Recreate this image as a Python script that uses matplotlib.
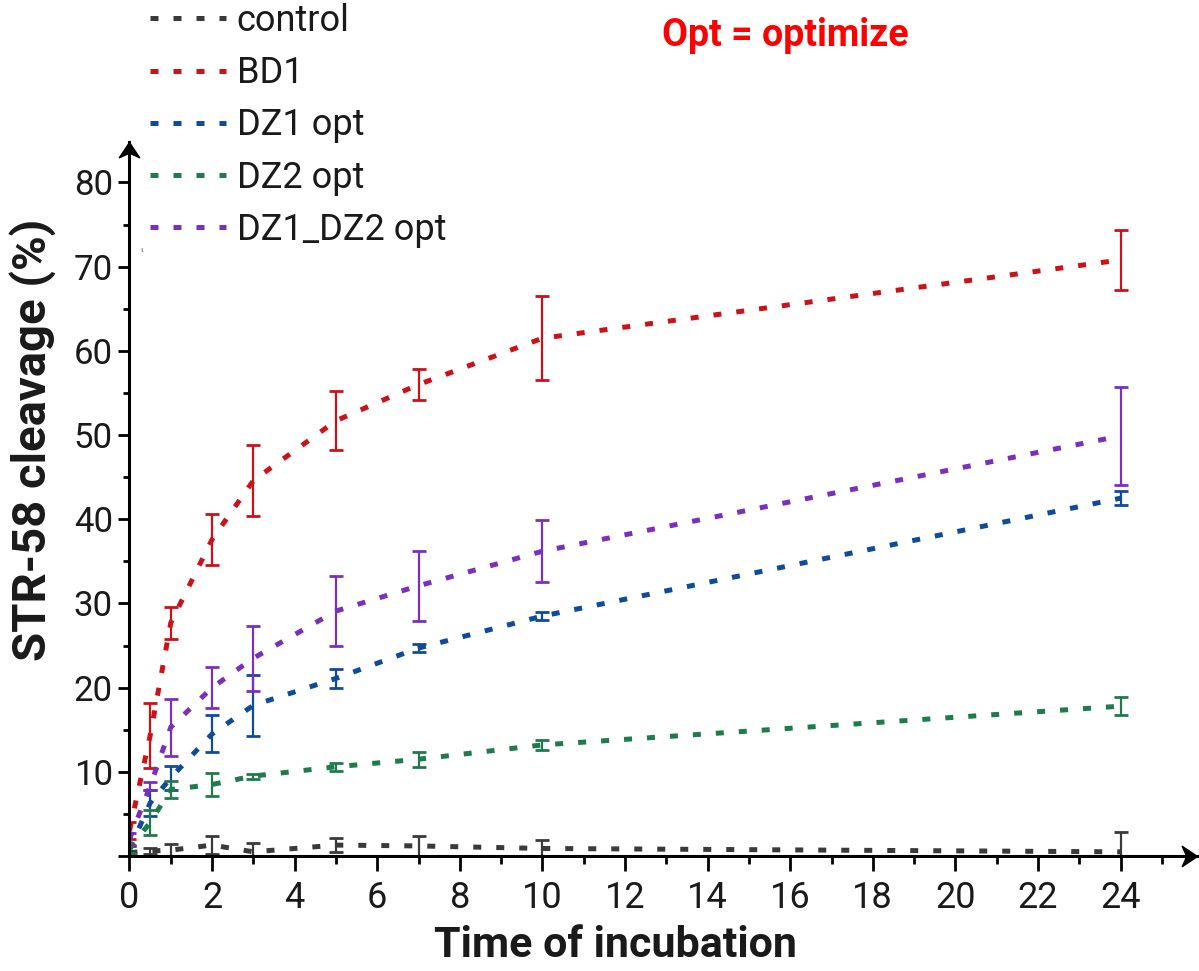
import numpy as np
import matplotlib.pyplot as plt
from matplotlib.path import Path

plt.rcParams['font.family'] = ['Roboto', 'DejaVu Sans']

# incubation times and cleavage (%), mean and error
time = [0, 0.5, 1, 2, 3, 5, 7, 10, 24]

control = [0.4, 0.6, 0.7, 1.3, 0.5, 1.3, 1.2, 0.9, 0.5]
control_err = [0.2, 0.3, 0.7, 1.1, 1.1, 0.8, 1.2, 1.0, 2.3]
bd1 = [3.0, 14.3, 27.7, 37.6, 44.6, 51.7, 56.0, 61.5, 70.8]
bd1_err = [1.0, 3.9, 1.9, 3.0, 4.2, 3.5, 1.8, 5.0, 3.6]
dz1 = [0.8, 6.3, 9.3, 14.5, 17.9, 21.1, 24.7, 28.5, 42.5]
dz1_err = [0.4, 1.5, 1.4, 2.2, 3.6, 1.1, 0.45, 0.45, 0.8]
dz2 = [0.8, 4.0, 7.9, 8.5, 9.5, 10.6, 11.5, 13.2, 17.8]
dz2_err = [0.4, 1.5, 1.0, 1.4, 0.3, 0.5, 0.9, 0.6, 1.05]
dz12 = [2.0, 8.3, 15.3, 20.0, 23.5, 29.1, 32.1, 36.2, 49.9]
dz12_err = [0.7, 0.45, 3.4, 2.4, 3.85, 4.15, 4.15, 3.7, 5.8]

series = [
    ('control', control, control_err, '#3a3a3a'),
    ('BD1', bd1, bd1_err, '#cc1219'),
    ('DZ1 opt', dz1, dz1_err, '#104b9b'),
    ('DZ2 opt', dz2, dz2_err, '#1f7a4c'),
    ('DZ1_DZ2 opt', dz12, dz12_err, '#7b2fbf'),
]

fig = plt.figure(figsize=(11.99, 9.71), dpi=100)
ax = fig.add_axes([0.1080, 0.1184, 0.8903, 0.7353])

handles = []
for name, vals, err, col in series:
    ln, = ax.plot(time, vals, color=col, lw=3.6, dashes=(1.6, 3.0), label=name)
    ax.errorbar(time, vals, yerr=err, fmt='none', ecolor=col, elinewidth=1.6,
                capsize=5, capthick=2)
    handles.append(ln)

ax.set_xlim(0, 25.85)
ax.set_ylim(0, 84.8)

for s in ['top', 'right']:
    ax.spines[s].set_visible(False)
for s in ['left', 'bottom']:
    ax.spines[s].set_linewidth(2.2)
    ax.spines[s].set_zorder(5)

# arrow heads at the ends of the axes
head_x = Path([(0, 0), (-1.5, 1), (-1.05, 0), (-1.5, -1), (0, 0)],
              [Path.MOVETO, Path.LINETO, Path.LINETO, Path.LINETO, Path.CLOSEPOLY])
head_y = Path([(0, 0), (-1, -1.5), (0, -1.05), (1, -1.5), (0, 0)],
              [Path.MOVETO, Path.LINETO, Path.LINETO, Path.LINETO, Path.CLOSEPOLY])
ax.plot(1, 0, marker=head_x, ms=22, color='k', transform=ax.transAxes, clip_on=False, zorder=6)
ax.plot(0, 1, marker=head_y, ms=22, color='k', transform=ax.transAxes, clip_on=False, zorder=6)

ax.set_xticks(range(0, 25, 2))
ax.set_xticks(range(1, 26, 2), minor=True)
ax.set_yticks(range(0, 81, 10))
ax.set_yticklabels([''] + [str(v) for v in range(10, 81, 10)])
ax.set_yticks(range(5, 80, 10), minor=True)

ax.tick_params(axis='x', which='major', length=11, width=2, labelsize=26, pad=6,
               labelcolor='#1a1a1a')
ax.tick_params(axis='x', which='minor', length=5.5, width=2)
ax.tick_params(axis='y', which='major', length=8, width=2, labelsize=25, pad=4,
               labelcolor='#1a1a1a')
ax.tick_params(axis='y', which='minor', length=4.5, width=2)

fig.legend(handles, [s[0] for s in series], loc='upper left',
           bbox_to_anchor=(0.125, 0.997), frameon=False, fontsize=26,
           handlelength=2.1, handletextpad=0.3, labelspacing=0.45,
           borderpad=0, borderaxespad=0, labelcolor='#1a1a1a')

fig.text(785 / 1199, 1 - 35 / 971, 'Opt = optimize', color='#ff0000',
         fontsize=27, fontweight='bold', ha='center', va='center')
fig.text(616 / 1199, 1 - 945 / 971, 'Time of incubation', color='#1a1a1a',
         fontsize=31, fontweight='bold', ha='center', va='center')
fig.text(33 / 1199, 1 - 440 / 971, 'STR-58 cleavage (%)', color='#1a1a1a',
         fontsize=34, fontweight='bold', ha='center', va='center', rotation=90)
fig.text(142 / 1199, 1 - 250 / 971, 'ι', color='#555555', fontsize=6,
         ha='center', va='center')

fig.savefig('out.png', dpi=100)
